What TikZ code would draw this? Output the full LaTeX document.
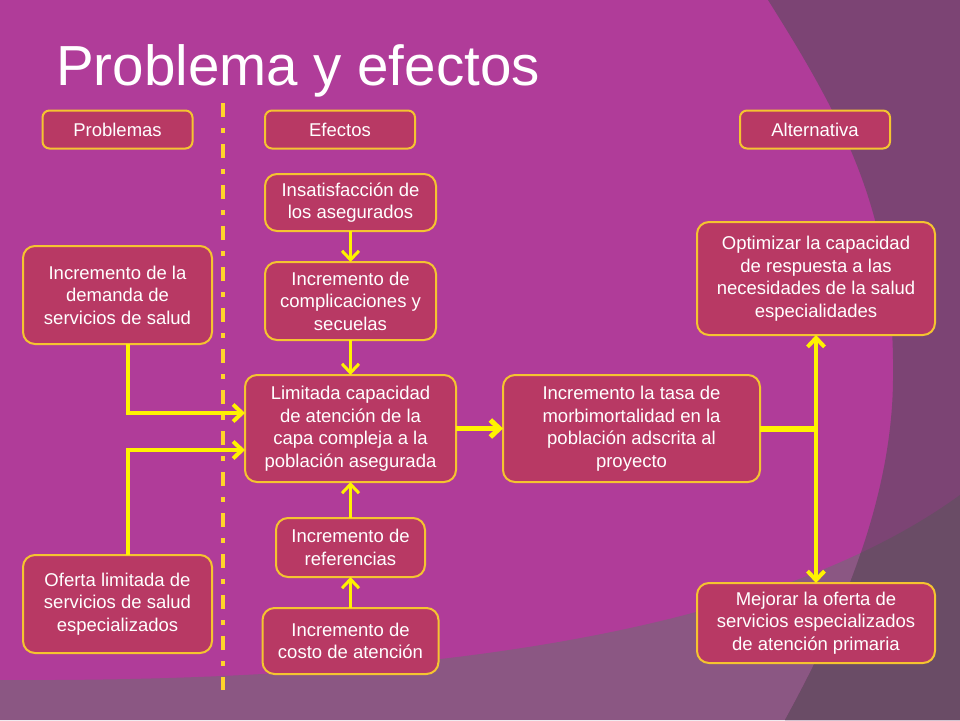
\documentclass[tikz,border=0pt]{standalone}
\usepackage{fontspec}
\setmainfont{Liberation Sans}
\usetikzlibrary{arrows.meta,positioning}

\definecolor{fondo}{HTML}{B03C99}
\definecolor{fondoder}{HTML}{7C4474}
\definecolor{banda}{HTML}{8B5783}
\definecolor{bandader}{HTML}{6A4C66}
\definecolor{caja}{HTML}{B83964}
\definecolor{borde}{HTML}{F5C430}
\definecolor{amarillo}{HTML}{FFF200}
\definecolor{guion}{HTML}{FFD42A}

\begin{document}
\begin{tikzpicture}[
		x=1pt, y=-1pt,
		>={Straight Barb[length=9pt,width=17pt]},
		font=\fontsize{18.5}{22.5}\selectfont,
		blk/.style={
			draw=borde, line width=2pt, fill=caja, rounded corners=12pt,
			text=white, align=center, inner sep=2pt, outer sep=0pt
		},
		hdr/.style={blk, rounded corners=7pt, minimum width=150pt, minimum height=38pt},
		flecha/.style={draw=amarillo, line width=3pt, ->}
		]
		% ---- fondo con las zonas oscuras
		\fill[fondo] (0,0) rectangle (960,720);
		\fill[banda] (0,680) .. controls (400,682) and (760,640) .. (960,495) -- (960,720) -- (0,720) -- cycle;
		\fill[fondoder] (768,0) .. controls (850,130) and (895,220) .. (893,380) .. controls (892,500) and (840,620) .. (785,720) -- (960,720) -- (960,0) -- cycle;
		\begin{scope}
			\clip (768,0) .. controls (850,130) and (895,220) .. (893,380) .. controls (892,500) and (840,620) .. (785,720) -- (960,720) -- (960,0) -- cycle;
			\fill[bandader] (0,680) .. controls (400,682) and (760,640) .. (960,495) -- (960,720) -- (0,720) -- cycle;
		\end{scope}
		
		% ---- titulo
		\node[anchor=base west, inner sep=0pt, text=white, font=\fontsize{56.5}{60}\selectfont] (titulo) at (56,85) {Problema y efectos};
		
		% ---- linea divisoria
		\coordinate (sepA) at (223,103);
		\coordinate (sepB) at (223,690);
		\draw[guion, line width=4pt, dash pattern=on 14pt off 11pt on 5pt off 11pt] (sepA) -- (sepB);
		
		% ---- encabezados
		\node[hdr] (probl) at (117.5,129.5) {Problemas};
		\node[hdr] (efect) at (340,129.5)   {Efectos};
		\node[hdr] (alter) at (815,129.5)   {Alternativa};
		
		% ---- columna de efectos
		\node[blk, minimum width=171pt, minimum height=57pt] (insat) at (350.5,202.5) {Insatisfacción de\\los asegurados};
		\node[blk, minimum width=171pt, minimum height=78pt, below=31pt of insat]  (compl) {Incremento de\\complicaciones y\\secuelas};
		\node[blk, minimum width=211pt, minimum height=107pt, below=35pt of compl] (limit) {Limitada capacidad\\de atención de la\\capa compleja a la\\población asegurada};
		\node[blk, minimum width=149pt, minimum height=59pt, below=36pt of limit]  (refer) {Incremento de\\referencias};
		\node[blk, minimum width=176pt, minimum height=66pt, below=31pt of refer]  (costo) {Incremento de\\costo de atención};
		\node[blk, minimum width=257pt, minimum height=107pt, right=47pt of limit] (tasa)  {Incremento la tasa de\\morbimortalidad en la\\población adscrita al\\proyecto};
		
		% ---- problemas y alternativas
		\node[blk, minimum width=189pt, minimum height=98pt] (deman) at (117.5,295) {Incremento de la\\demanda de\\servicios de salud};
		\node[blk, minimum width=189pt, minimum height=98pt] (ofert) at (117.5,604) {Oferta limitada de\\servicios de salud\\especializados};
		\node[blk, minimum width=238pt, minimum height=113pt] (optim) at (816,278.5) {Optimizar la capacidad\\de respuesta a las\\necesidades de la salud\\especialidades};
		\node[blk, minimum width=238pt, minimum height=80pt]  (mejor) at (816,623)   {Mejorar la oferta de\\servicios especializados\\de atención primaria};
		
		% ---- flechas
		\draw[flecha] (insat) -- (compl);
		\draw[flecha] (compl) -- (limit);
		\draw[flecha] (refer) -- (limit);
		\draw[flecha] (costo) -- (refer);
		\draw[flecha, line width=4pt] ([xshift=10.5pt]deman.south) |- ([yshift=15.5pt]limit.west);
		\draw[flecha, line width=4pt] ([xshift=10.5pt]ofert.north) |- ([yshift=-21.5pt]limit.west);
		\draw[flecha, line width=5pt] (limit) -- (tasa);
		\coordinate (nudo) at (optim.south |- tasa.east);
		\draw[amarillo, line width=6pt] (tasa) -- (nudo);
		\draw[flecha, line width=4pt, <->] (optim) -- (mejor);
	\end{tikzpicture}
\end{document}
